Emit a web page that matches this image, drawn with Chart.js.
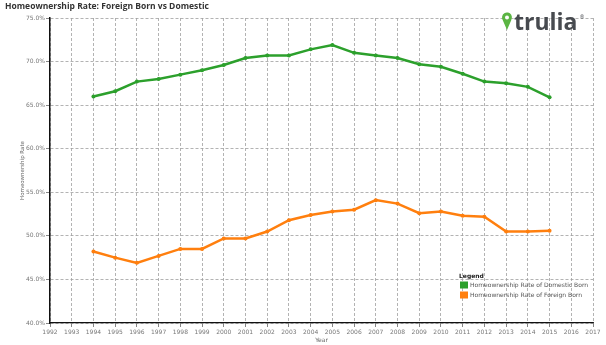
<!DOCTYPE html>
<html>
<head>
<meta charset="utf-8">
<script src="https://cdn.jsdelivr.net/npm/chart.js@4.4.0/dist/chart.umd.min.js"></script>
<style>
  html, body { margin: 0; padding: 0; background: #fff; }
  #wrap { position: relative; width: 606px; height: 345px; }
</style>
</head>
<body>
<div id="wrap"><canvas id="myChart" width="606" height="345"></canvas></div>
<script>
const years = [1994, 1995, 1996, 1997, 1998, 1999, 2000, 2001, 2002, 2003, 2004,
  2005, 2006, 2007, 2008, 2009, 2010, 2011, 2012, 2013, 2014, 2015];
const domesticRate = [66.0, 66.6, 67.7, 68.0, 68.5, 69.0, 69.6, 70.4, 70.7, 70.7, 71.4,
  71.9, 71.0, 70.7, 70.4, 69.7, 69.4, 68.6, 67.7, 67.5, 67.1, 65.9];
const foreignRate = [48.2, 47.5, 46.9, 47.7, 48.5, 48.5, 49.7, 49.7, 50.5, 51.8, 52.4,
  52.8, 53.0, 54.1, 53.7, 52.6, 52.8, 52.3, 52.2, 50.5, 50.5, 50.6];
const seriesNames = ['Homeownership Rate of Domestic Born', 'Homeownership Rate of Foreign Born'];
const seriesColors = ['#2ca02c', '#ff7f0e'];
const xRange = [1992, 2017];
const yRange = [40, 75];

const chartTitle = 'Homeownership Rate: Foreign Born vs Domestic';

// title, logo and the in-plot legend
const extras = {
  id: 'extras',
  afterDraw(chart) {
    const ctx = chart.ctx;
    ctx.save();
    ctx.fillStyle = '#333';
    ctx.font = 'bold 8.5px "Open Sans"';
    ctx.textBaseline = 'middle';
    ctx.textAlign = 'left';
    ctx.fillText(chartTitle, 5, 7);

    // trulia logo
    ctx.fillStyle = '#5bb543';
    ctx.beginPath();
    ctx.arc(507, 17.5, 5, Math.PI * 0.82, Math.PI * 0.18, false);
    ctx.lineTo(507, 30);
    ctx.closePath();
    ctx.fill();
    ctx.fillStyle = '#fff';
    ctx.beginPath();
    ctx.arc(507, 17.5, 2, 0, Math.PI * 2);
    ctx.fill();
    ctx.fillStyle = '#474a4f';
    ctx.font = 'bold 23px "Open Sans"';
    ctx.textBaseline = 'alphabetic';
    ctx.fillText('trulia', 514, 30);
    ctx.font = '5px "Open Sans"';
    ctx.fillText('®', 580, 19);

    // legend
    ctx.fillStyle = '#222';
    ctx.font = 'bold 6px "DejaVu Sans"';
    ctx.textBaseline = 'middle';
    ctx.fillText('Legend', 459, 276);
    chart.data.datasets.forEach((ds, i) => {
      const y = 285 + i * 10;
      ctx.fillStyle = ds.borderColor;
      ctx.fillRect(460, y - 3.5, 8, 7);
      ctx.fillStyle = '#555';
      ctx.font = '6px "DejaVu Sans"';
      ctx.fillText(ds.label, 470, y);
    });
    ctx.restore();
  },
};

const ctx = document.getElementById('myChart').getContext('2d');
const chart = new Chart(ctx, {
  type: 'line',
  data: {
    datasets: [
      {
        label: seriesNames[0],
        data: years.map((yr, i) => ({ x: yr, y: domesticRate[i] })),
        borderColor: seriesColors[0],
        backgroundColor: seriesColors[0],
      },
      {
        label: seriesNames[1],
        data: years.map((yr, i) => ({ x: yr, y: foreignRate[i] })),
        borderColor: seriesColors[1],
        backgroundColor: seriesColors[1],
      },
    ],
  },
  options: {
    responsive: false,
    animation: false,
    layout: { padding: { top: 18, right: 13, left: 0, bottom: 0 } },
    elements: {
      line: { borderWidth: 2.5, tension: 0 },
      point: { radius: 2, borderWidth: 0 },
    },
    plugins: {
      legend: { display: false },
      tooltip: { enabled: false },
    },
    scales: {
      x: {
        type: 'linear',
        min: xRange[0],
        max: xRange[1],
        afterFit: (s) => { s.height = 22; },
        grid: { color: '#a0a0a0', lineWidth: 0.8, tickLength: 4, tickColor: '#666' },
        border: { display: true, color: '#111', width: 1.2, dash: [3, 2] },
        ticks: {
          stepSize: 1,
          autoSkip: false,
          maxRotation: 0,
          padding: 2,
          color: '#777',
          font: { size: 6, family: 'DejaVu Sans' },
          callback: (v) => String(v),
        },
        title: {
          display: true,
          text: 'Year',
          color: '#666',
          font: { size: 6, family: 'DejaVu Sans' },
          padding: { top: 0, bottom: 1 },
        },
      },
      y: {
        min: yRange[0],
        max: yRange[1],
        afterFit: (s) => { s.width = 50; },
        grid: { color: '#a0a0a0', lineWidth: 0.8, tickLength: 4, tickColor: '#666' },
        border: { display: true, color: '#111', width: 1.5, dash: [3, 2] },
        ticks: {
          stepSize: 5,
          padding: 1,
          color: '#777',
          font: { size: 6, family: 'DejaVu Sans' },
          callback: (v) => v.toFixed(1) + '%',
        },
        title: {
          display: true,
          text: 'Homeownership Rate',
          color: '#666',
          font: { size: 5.5, family: 'DejaVu Sans' },
          padding: { top: 19, bottom: 0 },
        },
      },
    },
  },
  plugins: [extras],
});
</script>
</body>
</html>
